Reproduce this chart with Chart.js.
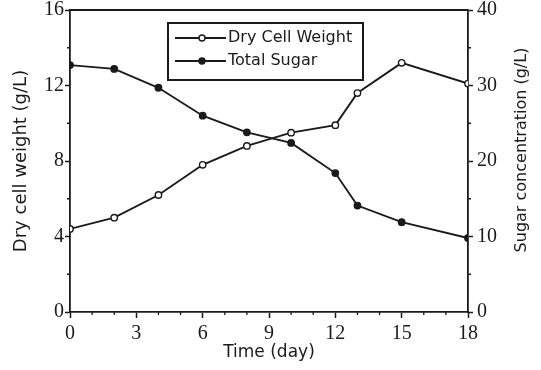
<!DOCTYPE html>
<html>
<head>
<meta charset="utf-8">
<script src="https://cdn.jsdelivr.net/npm/chart.js@4.4.1/dist/chart.umd.min.js"></script>
<style>
  html, body { margin: 0; padding: 0; background: #fff; }
  #wrap { width: 541px; height: 370px; }
</style>
</head>
<body>
<div id="wrap"><canvas id="chart"></canvas></div>
<script>
// sampling days
const days = [0, 2, 4, 6, 8, 10, 12, 13, 15, 18];
// dry cell weight, g/L (left axis)
const dryCellWeight = [4.4, 5.0, 6.2, 7.8, 8.8, 9.5, 9.9, 11.6, 13.2, 12.1];
// total sugar, g/L (right axis)
const totalSugar = [32.7, 32.2, 29.7, 26.0, 23.8, 22.4, 18.4, 14.1, 11.9, 9.8];

const seriesNames = ['Dry Cell Weight', 'Total Sugar'];
const xTitle = 'Time (day)';
const yTitle = 'Dry cell weight (g/L)';
const y2Title = 'Sugar concentration (g/L)';

const ink = '#1a1a1a';
const serif = '"Liberation Serif", "Times New Roman", serif';
const sans = '"DejaVu Sans", sans-serif';

function toPoints(values) {
    return days.map((d, i) => ({ x: d, y: values[i] }));
}

// small unlabelled ticks between the major ones
const minorTicks = {
    id: 'minorTicks',
    afterDraw(chart) {
        const ctx = chart.ctx;
        const { x, y, y2 } = chart.scales;
        ctx.save();
        ctx.strokeStyle = ink;
        ctx.lineWidth = 1.3;
        ctx.beginPath();
        for (let v = 1; v < 18; v++) {
            if (v % 3 === 0) continue;
            const px = x.getPixelForValue(v);
            ctx.moveTo(px, x.top);
            ctx.lineTo(px, x.top + 3);
        }
        for (let v = 2; v < 16; v += 4) {
            const py = y.getPixelForValue(v);
            ctx.moveTo(y.right, py);
            ctx.lineTo(y.right - 3, py);
        }
        for (let v = 5; v < 40; v += 10) {
            const py = y2.getPixelForValue(v);
            ctx.moveTo(y2.left, py);
            ctx.lineTo(y2.left + 3, py);
        }
        ctx.stroke();
        ctx.restore();
    }
};

// closes the box on top and writes the right axis title bottom-to-top
const frame = {
    id: 'frame',
    afterDraw(chart) {
        const ctx = chart.ctx;
        const area = chart.chartArea;
        ctx.save();
        ctx.strokeStyle = ink;
        ctx.lineWidth = 1.8;
        ctx.beginPath();
        ctx.moveTo(area.left, area.top);
        ctx.lineTo(area.right, area.top);
        ctx.stroke();

        ctx.fillStyle = ink;
        ctx.font = '16px ' + sans;
        ctx.textAlign = 'center';
        ctx.textBaseline = 'middle';
        ctx.translate(522, (area.top + area.bottom) / 2 - 11);
        ctx.rotate(-Math.PI / 2);
        ctx.fillText(y2Title, 0, 0);
        ctx.restore();
    }
};

// boxed legend: line with marker, then the series name
const boxLegend = {
    id: 'boxLegend',
    afterDraw(chart) {
        const ctx = chart.ctx;
        const area = chart.chartArea;
        const bx = area.left + 98, by = area.top + 13, bw = 195, bh = 57;
        ctx.save();
        ctx.fillStyle = '#fff';
        ctx.fillRect(bx, by, bw, bh);
        ctx.strokeStyle = ink;
        ctx.lineWidth = 2;
        ctx.strokeRect(bx, by, bw, bh);

        ctx.font = '16px ' + sans;
        ctx.textBaseline = 'middle';
        chart.data.datasets.forEach((ds, i) => {
            const cy = by + 15 + i * 23;
            ctx.strokeStyle = ink;
            ctx.lineWidth = 1.8;
            ctx.beginPath();
            ctx.moveTo(bx + 7, cy);
            ctx.lineTo(bx + 58, cy);
            ctx.stroke();
            ctx.beginPath();
            ctx.arc(bx + 34, cy, 3, 0, Math.PI * 2);
            ctx.fillStyle = ds.pointBackgroundColor;
            ctx.fill();
            ctx.lineWidth = 1.4;
            ctx.stroke();
            ctx.fillStyle = ink;
            ctx.fillText(ds.label, bx + 60, cy);
        });
        ctx.restore();
    }
};

new Chart(document.getElementById('chart'), {
    type: 'line',
    data: {
        datasets: [{
            label: seriesNames[0],
            data: toPoints(dryCellWeight),
            yAxisID: 'y',
            borderColor: ink,
            borderWidth: 1.9,
            pointRadius: 3.2,
            pointBorderWidth: 1.4,
            pointBorderColor: ink,
            pointBackgroundColor: '#fff',
            tension: 0
        }, {
            label: seriesNames[1],
            data: toPoints(totalSugar),
            yAxisID: 'y2',
            borderColor: ink,
            borderWidth: 1.9,
            pointRadius: 3.2,
            pointBorderWidth: 1.4,
            pointBorderColor: ink,
            pointBackgroundColor: ink,
            tension: 0
        }]
    },
    options: {
        responsive: true,
        maintainAspectRatio: false,
        animation: false,
        layout: { padding: { top: 10, left: 0, right: 0, bottom: 0 } },
        plugins: {
            legend: { display: false },
            tooltip: { enabled: false }
        },
        scales: {
            x: {
                type: 'linear',
                min: 0,
                max: 18,
                afterFit(s) { s.height = 58; },
                ticks: {
                    stepSize: 3,
                    color: ink,
                    padding: 6,
                    font: { family: serif, size: 20, lineHeight: 1 }
                },
                grid: { drawOnChartArea: false, tickLength: 6, tickWidth: 1.5, tickColor: ink },
                border: { color: ink, width: 1.8 },
                title: {
                    display: true,
                    text: xTitle,
                    color: ink,
                    padding: { top: 0, bottom: 7 },
                    font: { family: sans, size: 17 }
                }
            },
            y: {
                position: 'left',
                min: 0,
                max: 16,
                afterFit(s) { s.width = 70; },
                ticks: {
                    stepSize: 4,
                    color: ink,
                    padding: 1,
                    font: { family: serif, size: 20, lineHeight: 0.6 }
                },
                grid: { drawOnChartArea: false, tickLength: 5, tickWidth: 1.5, tickColor: ink },
                border: { color: ink, width: 1.8 },
                title: {
                    display: true,
                    text: yTitle,
                    color: ink,
                    padding: { top: 11, bottom: 0 },
                    font: { family: sans, size: 18 }
                }
            },
            y2: {
                position: 'right',
                min: 0,
                max: 40,
                afterFit(s) { s.width = 73; },
                ticks: {
                    stepSize: 10,
                    color: ink,
                    padding: 4,
                    font: { family: serif, size: 20, lineHeight: 0.6 }
                },
                grid: { drawOnChartArea: false, tickLength: 5, tickWidth: 1.5, tickColor: ink },
                border: { color: ink, width: 1.8 }
            }
        }
    },
    plugins: [minorTicks, frame, boxLegend]
});
</script>
</body>
</html>
